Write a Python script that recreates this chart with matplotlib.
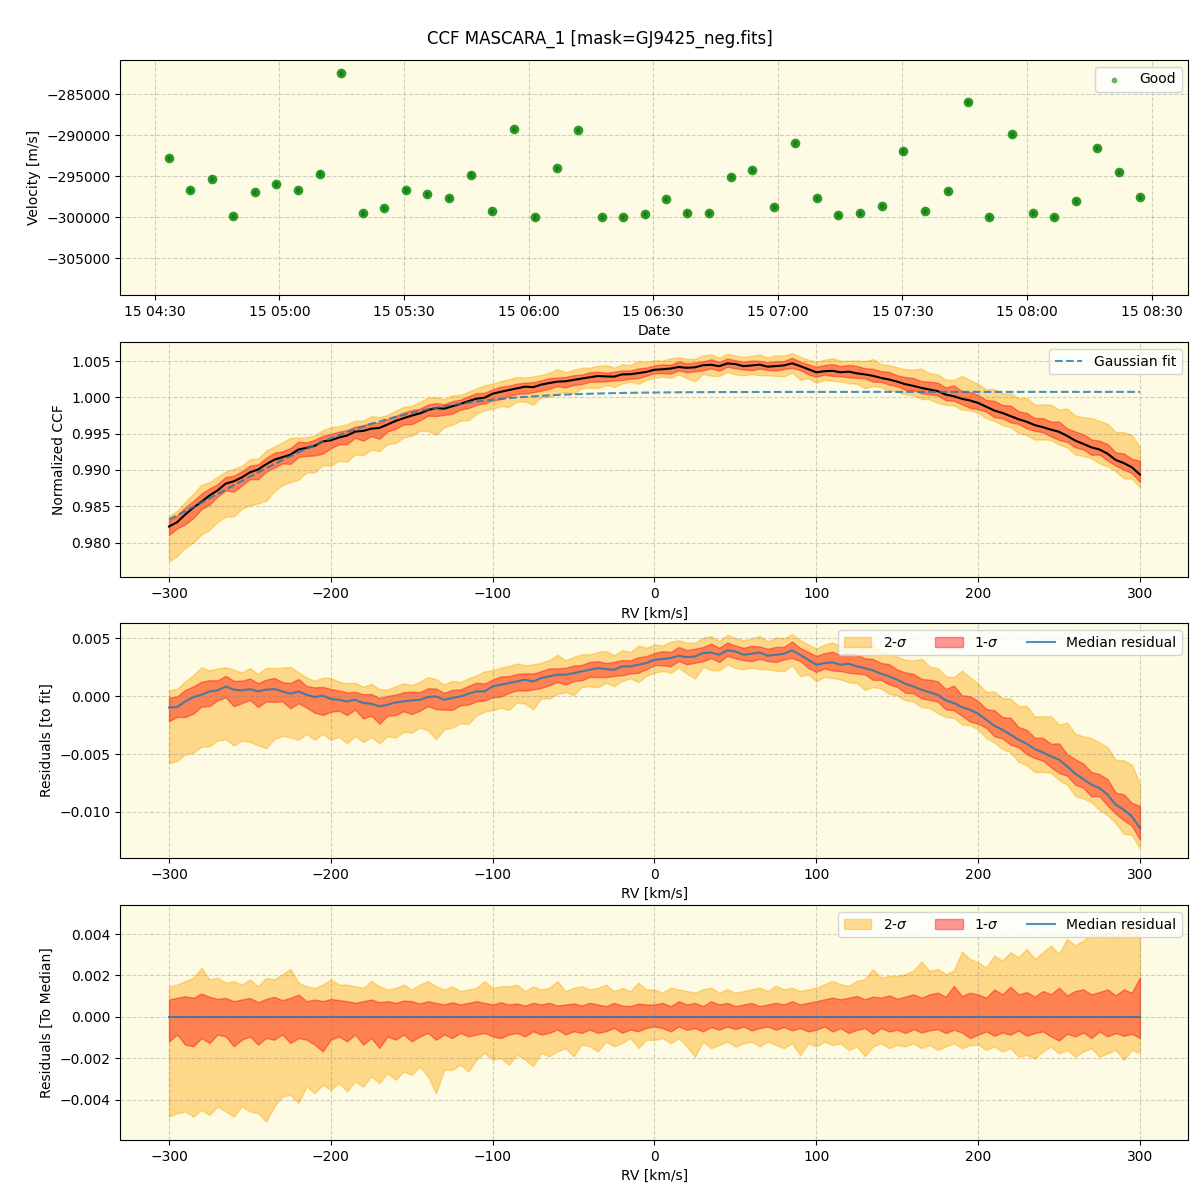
import numpy as np
import matplotlib
matplotlib.use("Agg")
import matplotlib.pyplot as plt
import matplotlib.dates as mdates
from datetime import datetime

# ---------------- data ----------------
obs_date = "2023-01-15"
obs_times = ["04:33:24", "04:38:30", "04:43:42", "04:48:48", "04:54:06", "04:59:06",
             "05:04:30", "05:09:42", "05:14:48", "05:20:06", "05:25:12", "05:30:30",
             "05:35:30", "05:40:54", "05:46:06", "05:51:12", "05:56:30", "06:01:30",
             "06:06:54", "06:11:54", "06:17:42", "06:22:48", "06:27:54", "06:33:06",
             "06:38:12", "06:43:30", "06:48:48", "06:53:54", "06:59:06", "07:04:12",
             "07:09:30", "07:14:36", "07:19:54", "07:25:06", "07:30:06", "07:35:30",
             "07:41:00", "07:45:54", "07:50:54", "07:56:18", "08:01:30", "08:06:30",
             "08:11:48", "08:16:48", "08:22:12", "08:27:12"]
velocity = [-292800, -296710, -295370, -299880, -296950, -295980, -296710, -294680,
            -282440, -299510, -298900, -296710, -297200, -297680, -294800, -299270,
            -289270, -300000, -294020, -289390, -300000, -300000, -299590, -297800,
            -299510, -299510, -295080, -294270, -298780, -290980, -297680, -299760,
            -299510, -298660, -291950, -299270, -296830, -285980, -300000, -289880,
            -299510, -300000, -298050, -291590, -294510, -297560]
velocity_err = 300

rv = np.arange(-300, 301, 5)  # km/s grid

# Gaussian fit parameters (continuum, depth, centre, sigma)
fit_continuum = 1.00075
fit_depth = 0.02255
fit_center = -380.6
fit_sigma = 113.8

# median residual to the fit
resid_median = [
    -0.00098, -0.00095, -0.00046, -0.00009, 0.00011, 0.00040, 0.00049, 0.00083, 0.00055, 0.00049,
    0.00060, 0.00040, 0.00055, 0.00060, 0.00040, 0.00020, 0.00040, 0.00011, -0.00009, 0.00003,
    -0.00026, -0.00032, -0.00046, -0.00032, -0.00060, -0.00066, -0.00089, -0.00075, -0.00055, -0.00046,
    -0.00037, -0.00032, -0.00009, -0.00003, -0.00032, -0.00017, -0.00003, 0.00020, 0.00040, 0.00040,
    0.00083, 0.00098, 0.00112, 0.00126, 0.00141, 0.00126, 0.00155, 0.00170, 0.00184, 0.00184,
    0.00198, 0.00213, 0.00227, 0.00241, 0.00233, 0.00227, 0.00256, 0.00256, 0.00270, 0.00285,
    0.00313, 0.00319, 0.00328, 0.00348, 0.00336, 0.00342, 0.00371, 0.00376, 0.00356, 0.00394,
    0.00385, 0.00356, 0.00365, 0.00376, 0.00348, 0.00356, 0.00365, 0.00394, 0.00356, 0.00313,
    0.00270, 0.00285, 0.00290, 0.00270, 0.00279, 0.00256, 0.00241, 0.00221, 0.00193, 0.00170,
    0.00141, 0.00106, 0.00083, 0.00055, 0.00032, 0.00011, -0.00037, -0.00060, -0.00095, -0.00118,
    -0.00152, -0.00204, -0.00256, -0.00290, -0.00333, -0.00376, -0.00411, -0.00457, -0.00486, -0.00520,
    -0.00549, -0.00606, -0.00670, -0.00716, -0.00764, -0.00793, -0.00851, -0.00937, -0.00980, -0.01038,
    -0.01138]

# band edges relative to the median
upper_2sig = [
    0.00148, 0.00156, 0.00173, 0.00189, 0.00237, 0.00181, 0.00189, 0.00165, 0.00173, 0.00156,
    0.00181, 0.00148, 0.00189, 0.00181, 0.00205, 0.00232, 0.00165, 0.00148, 0.00140, 0.00156,
    0.00181, 0.00156, 0.00156, 0.00148, 0.00140, 0.00173, 0.00148, 0.00132, 0.00140, 0.00156,
    0.00132, 0.00156, 0.00173, 0.00148, 0.00132, 0.00148, 0.00124, 0.00132, 0.00140, 0.00173,
    0.00140, 0.00148, 0.00148, 0.00156, 0.00124, 0.00148, 0.00132, 0.00140, 0.00173, 0.00124,
    0.00140, 0.00148, 0.00132, 0.00140, 0.00156, 0.00124, 0.00140, 0.00124, 0.00165, 0.00132,
    0.00133, 0.00117, 0.00141, 0.00133, 0.00125, 0.00117, 0.00133, 0.00141, 0.00117, 0.00133,
    0.00117, 0.00125, 0.00133, 0.00141, 0.00125, 0.00150, 0.00133, 0.00141, 0.00125, 0.00133,
    0.00141, 0.00158, 0.00174, 0.00158, 0.00150, 0.00174, 0.00182, 0.00231, 0.00190, 0.00198,
    0.00198, 0.00207, 0.00223, 0.00267, 0.00223, 0.00231, 0.00207, 0.00223, 0.00315, 0.00280,
    0.00263, 0.00239, 0.00296, 0.00272, 0.00312, 0.00288, 0.00328, 0.00280, 0.00312, 0.00345,
    0.00304, 0.00377, 0.00345, 0.00369, 0.00402, 0.00393, 0.00410, 0.00385, 0.00426, 0.00446,
    0.00380]
upper_1sig = [
    0.00084, 0.00092, 0.00100, 0.00092, 0.00113, 0.00097, 0.00087, 0.00092, 0.00076, 0.00084,
    0.00092, 0.00071, 0.00087, 0.00097, 0.00081, 0.00092, 0.00108, 0.00076, 0.00084, 0.00076,
    0.00087, 0.00081, 0.00076, 0.00068, 0.00076, 0.00084, 0.00071, 0.00076, 0.00068, 0.00079,
    0.00076, 0.00065, 0.00076, 0.00068, 0.00060, 0.00071, 0.00060, 0.00068, 0.00076, 0.00068,
    0.00060, 0.00071, 0.00060, 0.00065, 0.00055, 0.00068, 0.00060, 0.00068, 0.00055, 0.00060,
    0.00065, 0.00055, 0.00068, 0.00060, 0.00052, 0.00068, 0.00055, 0.00052, 0.00065, 0.00060,
    0.00060, 0.00068, 0.00052, 0.00076, 0.00060, 0.00068, 0.00052, 0.00076, 0.00060, 0.00068,
    0.00052, 0.00060, 0.00068, 0.00052, 0.00060, 0.00068, 0.00060, 0.00076, 0.00060, 0.00068,
    0.00076, 0.00085, 0.00093, 0.00085, 0.00093, 0.00101, 0.00085, 0.00098, 0.00093, 0.00104,
    0.00088, 0.00098, 0.00109, 0.00093, 0.00109, 0.00117, 0.00098, 0.00150, 0.00101, 0.00117,
    0.00109, 0.00093, 0.00133, 0.00109, 0.00146, 0.00109, 0.00120, 0.00098, 0.00125, 0.00109,
    0.00141, 0.00104, 0.00125, 0.00133, 0.00109, 0.00120, 0.00133, 0.00104, 0.00133, 0.00117,
    0.00190]
lower_1sig = [
    -0.00118, -0.00085, -0.00134, -0.00142, -0.00102, -0.00126, -0.00085, -0.00094, -0.00142, -0.00110,
    -0.00094, -0.00134, -0.00102, -0.00110, -0.00085, -0.00126, -0.00102, -0.00110, -0.00134, -0.00166,
    -0.00110, -0.00094, -0.00118, -0.00085, -0.00134, -0.00102, -0.00150, -0.00094, -0.00110, -0.00085,
    -0.00118, -0.00094, -0.00077, -0.00110, -0.00085, -0.00102, -0.00077, -0.00094, -0.00085, -0.00077,
    -0.00094, -0.00102, -0.00085, -0.00077, -0.00094, -0.00069, -0.00085, -0.00077, -0.00061, -0.00085,
    -0.00069, -0.00077, -0.00061, -0.00077, -0.00069, -0.00053, -0.00077, -0.00061, -0.00069, -0.00053,
    -0.00046, -0.00054, -0.00070, -0.00046, -0.00062, -0.00054, -0.00070, -0.00049, -0.00062, -0.00046,
    -0.00059, -0.00046, -0.00065, -0.00054, -0.00046, -0.00062, -0.00049, -0.00065, -0.00054, -0.00070,
    -0.00062, -0.00046, -0.00070, -0.00054, -0.00078, -0.00062, -0.00054, -0.00081, -0.00054, -0.00070,
    -0.00062, -0.00078, -0.00059, -0.00075, -0.00065, -0.00059, -0.00078, -0.00062, -0.00075, -0.00102,
    -0.00086, -0.00070, -0.00091, -0.00075, -0.00086, -0.00065, -0.00091, -0.00078, -0.00070, -0.00094,
    -0.00114, -0.00081, -0.00094, -0.00075, -0.00102, -0.00070, -0.00094, -0.00078, -0.00091, -0.00081,
    -0.00102]
lower_2sig = [
    -0.00481, -0.00465, -0.00456, -0.00481, -0.00448, -0.00473, -0.00432, -0.00456, -0.00481, -0.00432,
    -0.00456, -0.00465, -0.00505, -0.00432, -0.00384, -0.00376, -0.00416, -0.00336, -0.00368, -0.00327,
    -0.00352, -0.00319, -0.00360, -0.00311, -0.00336, -0.00287, -0.00319, -0.00271, -0.00303, -0.00263,
    -0.00279, -0.00239, -0.00287, -0.00368, -0.00255, -0.00255, -0.00231, -0.00263, -0.00206, -0.00174,
    -0.00206, -0.00198, -0.00231, -0.00182, -0.00206, -0.00239, -0.00174, -0.00190, -0.00166, -0.00150,
    -0.00190, -0.00134, -0.00142, -0.00166, -0.00118, -0.00142, -0.00126, -0.00102, -0.00150, -0.00110,
    -0.00111, -0.00102, -0.00127, -0.00102, -0.00143, -0.00192, -0.00119, -0.00151, -0.00135, -0.00119,
    -0.00143, -0.00127, -0.00119, -0.00143, -0.00119, -0.00135, -0.00151, -0.00127, -0.00184, -0.00127,
    -0.00143, -0.00119, -0.00135, -0.00127, -0.00159, -0.00143, -0.00189, -0.00143, -0.00127, -0.00151,
    -0.00135, -0.00143, -0.00127, -0.00151, -0.00135, -0.00159, -0.00143, -0.00127, -0.00151, -0.00135,
    -0.00135, -0.00159, -0.00143, -0.00167, -0.00151, -0.00192, -0.00184, -0.00200, -0.00167, -0.00143,
    -0.00176, -0.00159, -0.00192, -0.00167, -0.00151, -0.00192, -0.00176, -0.00159, -0.00208, -0.00159,
    -0.00176]

# ---------------- derived ----------------
times = [datetime.strptime(f"{obs_date} {t}", "%Y-%m-%d %H:%M:%S") for t in obs_times]
resid_median = np.array(resid_median)
u2 = np.array(upper_2sig); u1 = np.array(upper_1sig)
l1 = np.array(lower_1sig); l2 = np.array(lower_2sig)
gauss_fit = fit_continuum - fit_depth * np.exp(-(rv - fit_center) ** 2 / (2 * fit_sigma ** 2))
ccf_median = gauss_fit + resid_median

# ---------------- plot ----------------
BG = "#fdfbe3"
fig = plt.figure(figsize=(12, 12), dpi=100)
left, width, height = 0.1004, 0.890, 0.1958
bottoms = [0.7542, 0.5189, 0.2850, 0.0500]
axes = [fig.add_axes([left, b, width, height]) for b in bottoms]
for ax in axes:
    ax.set_facecolor(BG)
    ax.grid(True, linestyle="--", color="gray", alpha=0.35, linewidth=0.8)

fig.suptitle("CCF MASCARA_1 [mask=GJ9425_neg.fits]", y=0.975, fontsize=12)

# panel 1: velocities
ax = axes[0]
ax.errorbar(times, velocity, yerr=velocity_err, fmt="o", color="green", ms=6,
            alpha=0.7, ecolor="darkgreen", elinewidth=1.2, capsize=0)
ax.scatter(times, velocity, s=10, color="green", alpha=0.5, label="Good", zorder=3)
ax.xaxis.set_major_locator(mdates.MinuteLocator(byminute=[0, 30]))
ax.xaxis.set_major_formatter(mdates.DateFormatter("%d %H:%M"))
ax.set_ylim(-309470, -280810)
ax.set_xlabel("Date")
ax.set_ylabel("Velocity [m/s]")
ax.legend(loc="upper right")

# panel 2: CCF
ax = axes[1]
ax.fill_between(rv, ccf_median + l2, ccf_median + u2, color="orange", alpha=0.4)
ax.fill_between(rv, ccf_median + l1, ccf_median + u1, color="red", alpha=0.4)
ax.plot(rv, ccf_median, color="black", lw=1.5)
ax.plot(rv, gauss_fit, "--", color="C0", alpha=0.8, lw=1.5, label="Gaussian fit")
ax.set_xlim(-330, 330)
ax.set_ylim(0.97522, 1.00757)
ax.set_xlabel("RV [km/s]")
ax.set_ylabel("Normalized CCF")
ax.legend(loc="upper right")

# panel 3: residuals to fit
ax = axes[2]
ax.fill_between(rv, resid_median + l2, resid_median + u2, color="orange", alpha=0.4,
                label="2-$\\sigma$")
ax.fill_between(rv, resid_median + l1, resid_median + u1, color="red", alpha=0.4,
                label="1-$\\sigma$")
ax.plot(rv, resid_median, color="C0", alpha=0.8, lw=1.5, label="Median residual")
ax.set_xlim(-330, 330)
ax.set_ylim(-0.01397, 0.0063)
ax.set_xlabel("RV [km/s]")
ax.set_ylabel("Residuals [to fit]")
ax.legend(loc="upper right", ncol=3)

# panel 4: residuals to median
ax = axes[3]
ax.fill_between(rv, l2, u2, color="orange", alpha=0.4, label="2-$\\sigma$")
ax.fill_between(rv, l1, u1, color="red", alpha=0.4, label="1-$\\sigma$")
ax.plot(rv, np.zeros_like(resid_median), color="C0", alpha=0.8, lw=1.5,
        label="Median residual")
ax.set_xlim(-330, 330)
ax.set_ylim(-0.00594, 0.0054)
ax.set_xlabel("RV [km/s]")
ax.set_ylabel("Residuals [To Median]")
ax.legend(loc="upper right", ncol=3)

fig.savefig("out.png", dpi=100)
